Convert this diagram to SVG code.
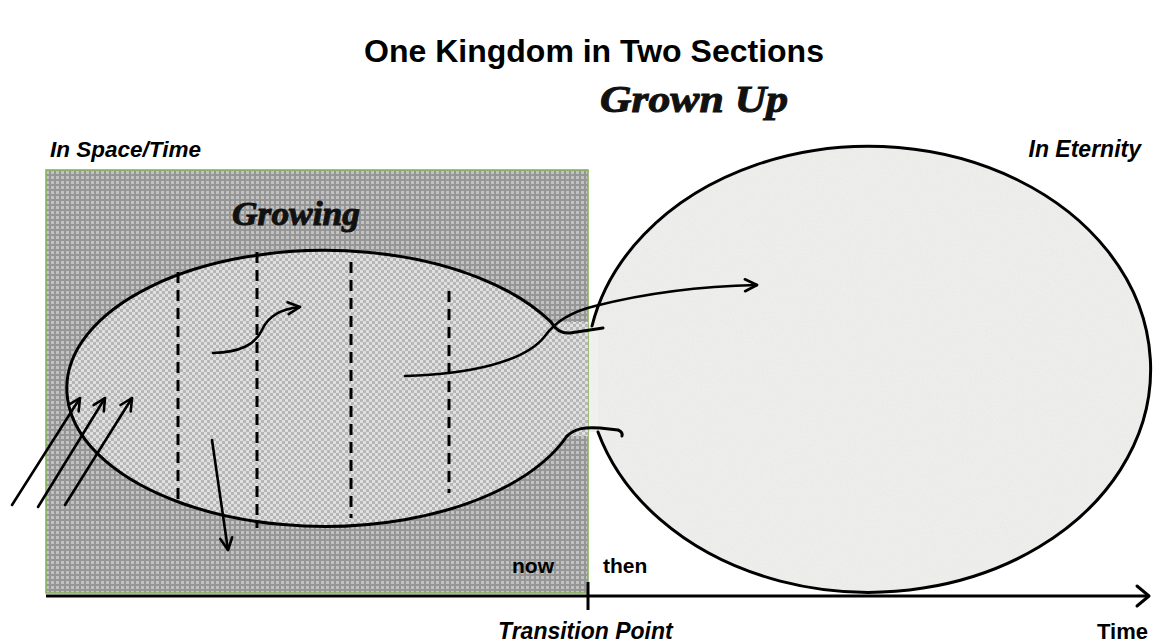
<svg xmlns="http://www.w3.org/2000/svg" width="1153" height="643" viewBox="0 0 1153 643">
<style>
.ln{fill:none;stroke:#000;stroke-width:3;stroke-linecap:round;stroke-linejoin:round}
.ar{fill:none;stroke:#000;stroke-width:2.6;stroke-linecap:round;marker-end:url(#v)}
.dash{fill:none;stroke:#000;stroke-width:3;stroke-dasharray:11 7}
.t{font-family:"Liberation Sans",Arial,sans-serif;font-weight:bold;fill:#000}
.it{font-style:italic}
.sc{font-family:"Liberation Serif","DejaVu Serif",serif;font-weight:bold;font-style:italic;fill:#111;stroke:#111;stroke-width:1}
</style>
<defs>
<pattern id="outer" width="5" height="5" patternUnits="userSpaceOnUse">
<rect width="5" height="5" fill="#969696"/>
<rect x="1" y="1" width="3" height="3" fill="#c2c2c2"/>
</pattern>
<pattern id="inner" width="6" height="6" patternUnits="userSpaceOnUse">
<rect width="6" height="6" fill="#b6b6b6"/>
<rect x="0" y="0" width="3" height="3" fill="#e0e0e0"/>
<rect x="3" y="3" width="3" height="3" fill="#e0e0e0"/>
</pattern>
<filter id="speck" x="0" y="0" width="1" height="1">
<feTurbulence type="fractalNoise" baseFrequency="0.6" numOctaves="2" seed="3" result="n"/>
<feColorMatrix in="n" type="matrix" values="0 0 0 0 0.55  0 0 0 0 0.55  0 0 0 0 0.55  0 0 0 0.18 0" result="g"/>
<feComposite in="g" in2="SourceGraphic" operator="in" result="gi"/>
<feMerge><feMergeNode in="SourceGraphic"/><feMergeNode in="gi"/></feMerge>
</filter>
<marker id="v" viewBox="0 0 16 16" refX="14" refY="8" markerWidth="16" markerHeight="16" markerUnits="userSpaceOnUse" orient="auto">
<path d="M2,2 L14,8 L2,14" fill="none" stroke="#000" stroke-width="2.6" stroke-linecap="round" stroke-linejoin="round"/>
</marker>
</defs>
<rect width="1153" height="643" fill="#fff"/>

<text class="t" x="594" y="62" font-size="32" text-anchor="middle">One Kingdom in Two Sections</text>

<g id="eternity">
<ellipse cx="868" cy="370" rx="282" ry="223" fill="#f0f0ee" filter="url(#speck)"/>
<rect x="586" y="326" width="12" height="106" fill="#f0f0ee"/>
<path class="ln" d="M592,326 A282 223 0 1 1 598,432"/>
</g>

<g id="space-time">
<rect x="46" y="170" width="542" height="423" fill="url(#outer)" stroke="#86b35a" stroke-width="1.6"/>
</g>

<g id="kingdom-growing">
<path d="M551,322 A258 138 0 1 0 567,436 L588,436 L588,322 Z" fill="url(#inner)"/>
<path class="ln" d="M551,322 A258 138 0 1 0 567,436"/>
<path class="ln" d="M551,322 Q558,334 570,333 L603,328"/>
<path class="ln" d="M567,436 C576,428 585,427 600,428 L618,430 Q623,432 622,436"/>
<line class="dash" x1="178" y1="272" x2="178" y2="504"/>
<line class="dash" x1="257" y1="252" x2="257" y2="528"/>
<line class="dash" x1="351" y1="262" x2="351" y2="518"/>
<line class="dash" x1="449" y1="291" x2="449" y2="493"/>
</g>

<g id="connectors">
<path class="ar" d="M12,505 L80,398"/>
<path class="ar" d="M38,507 L105,398"/>
<path class="ar" d="M65,505 L132,398"/>
<path class="ar" d="M213,353 C240,352 255,345 262,330 C268,316 280,309 300,307"/>
<path class="ar" d="M212,440 L228,550"/>
<path class="ar" d="M405,376 C470,374 525,362 545,336 C555,322 570,312 595,306 C650,292 710,286 757,285"/>
</g>

<g id="axis">
<line x1="46" y1="596" x2="1148" y2="596" stroke="#000" stroke-width="3"/>
<path class="ln" d="M1137,586 L1149,596 L1137,606"/>
<line x1="588" y1="582" x2="588" y2="610" stroke="#000" stroke-width="3"/>
</g>

<g id="labels">
<text class="t it" x="50" y="157" font-size="22.5">In Space/Time</text>
<text class="t it" x="1141" y="157" font-size="23" text-anchor="end">In Eternity</text>
<text class="sc" x="600" y="112" font-size="38" textLength="188" lengthAdjust="spacingAndGlyphs">Grown Up</text>
<text class="sc" x="232" y="225" font-size="34" textLength="128" lengthAdjust="spacingAndGlyphs">Growing</text>
<text class="t" x="512" y="573" font-size="21">now</text>
<text class="t" x="603" y="573" font-size="21">then</text>
<text class="t it" x="498" y="639" font-size="23">Transition Point</text>
<text class="t" x="1097" y="639" font-size="22">Time</text>
</g>
</svg>
